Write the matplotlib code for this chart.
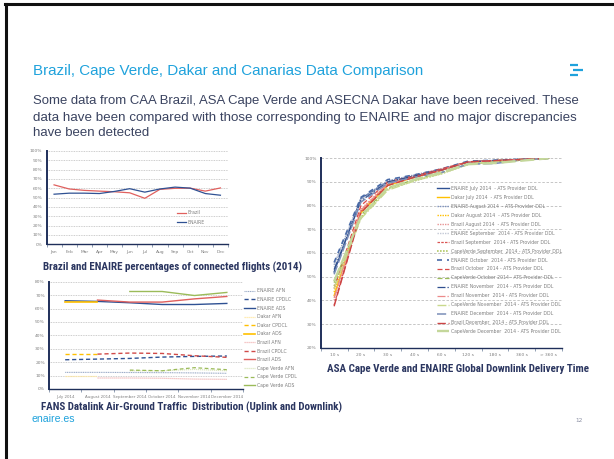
import numpy as np
import matplotlib
matplotlib.use("Agg")
import matplotlib.pyplot as plt
from matplotlib import font_manager as fm
from matplotlib.lines import Line2D

W, H, DPI = 614, 459, 100

def pick(fams):
    for f in fams:
        try:
            fm.findfont(fm.FontProperties(family=f), fallback_to_default=False)
            return f
        except Exception:
            pass
    return 'DejaVu Sans'

NARROW = pick(['Liberation Sans Narrow', 'Roboto Condensed', 'Open Sans'])
REGULAR = pick(['Liberation Sans', 'Roboto', 'DejaVu Sans'])
TICKFONT = 'DejaVu Sans'

# ---------------- data ----------------
title_text = "Brazil, Cape Verde, Dakar and Canarias Data Comparison"
body_lines = [
    "Some data from CAA Brazil, ASA Cape Verde and ASECNA Dakar have been received. These",
    "data have been compared with those corresponding to ENAIRE and no major discrepancies",
    "have been detected",
]

months = ['Jan', 'Feb', 'Mar', 'Apr', 'May', 'Jun', 'Jul', 'Aug', 'Sep', 'Oct', 'Nov', 'Dec']
brazil_connected = [63.7, 59.3, 57.8, 57.0, 56.3, 55.2, 49.3, 58.9, 60.0, 60.2, 57.0, 60.4]
enaire_connected = [53.7, 54.8, 54.8, 54.4, 56.7, 59.6, 55.9, 59.3, 61.3, 60.2, 54.4, 52.6]
pct_ticks_0_100 = ['0%', '10%', '20%', '30%', '40%', '50%', '60%', '70%', '80%', '90%', '100%']

traffic_months = ['July 2014', 'August 2014', 'September 2014', 'October 2014',
                  'November 2014', 'December 2014']
nan = np.nan
enaire_afn = [12.4, 12.4, 12.3, 12.2, 12.0, 11.7]
enaire_cpdlc = [21.8, 22.3, 22.8, 23.8, 24.3, 24.6]
enaire_ads = [65.8, 65.3, 64.3, 63.0, 63.0, 63.8]
dakar_afn = [9.7, 9.7, nan, nan, nan, nan]
dakar_cpdcl = [26.0, 26.0, nan, nan, nan, nan]
dakar_ads = [64.8, 64.8, nan, nan, nan, nan]
brazil_afn = [nan, 8.2, 8.2, 8.0, 7.4, 7.2]
brazil_cpdlc = [nan, 26.0, 26.8, 26.5, 24.8, 23.6]
brazil_ads = [nan, 66.3, 64.8, 64.8, 67.2, 69.0]
cv_afn = [nan, nan, 13.6, 13.6, 14.6, 13.6]
cv_cpdl = [nan, nan, 14.1, 13.6, 15.9, 14.4]
cv_ads = [nan, nan, 72.7, 72.7, 69.7, 72.0]
traffic_labels = ['ENAIRE AFN', 'ENAIRE CPDLC', 'ENAIRE ADS', 'Dakar AFN', 'Dakar CPDCL',
                  'Dakar ADS', 'Brazil AFN', 'Brazil CPDLC', 'Brazil ADS', 'Cape Verde AFN',
                  'Cape Verde CPDL', 'Cape Verde ADS']
pct_ticks_0_80 = ['0%', '10%', '20%', '30%', '40%', '50%', '60%', '70%', '80%']

delay_bins = ['10 s', '20 s', '30 s', '40 s', '60 s', '120 s', '180 s', '360 s', '> 360 s']
enaire_jul = [52.0, 83.0, 90.0, 92.5, 95.0, 98.5, 99.0, 99.5, 100]
dakar_jul = [42.0, 77.0, 88.5, 92.0, 95.0, 98.5, 99.0, 99.5, 100]
enaire_aug = [55.0, 83.0, 90.5, 93.0, 95.5, 98.5, 99.2, 99.6, 100]
dakar_aug = [43.5, 78.0, 89.0, 92.0, 95.0, 98.5, 99.0, 99.5, 100]
brazil_aug = [40.0, 78.5, 89.5, 92.5, 95.5, 98.5, 99.0, 99.5, 100]
enaire_sep = [54.0, 82.5, 90.0, 92.5, 95.0, 98.5, 99.0, 99.5, 100]
brazil_sep = [38.0, 77.5, 89.0, 92.0, 95.0, 98.5, 99.0, 99.5, 100]
cv_sep = [46.0, 75.0, 87.0, 90.5, 93.5, 97.5, 98.5, 99.2, 100]
enaire_oct = [56.0, 83.5, 91.0, 93.0, 95.5, 98.8, 99.2, 99.6, 100]
brazil_oct = [45.0, 80.0, 90.0, 92.5, 95.5, 98.5, 99.0, 99.5, 100]
cv_oct = [47.5, 76.0, 87.5, 91.0, 94.0, 97.5, 98.5, 99.2, 100]
enaire_nov = [53.0, 82.0, 90.0, 92.5, 95.0, 98.5, 99.0, 99.5, 100]
brazil_nov = [41.0, 78.0, 89.0, 92.0, 95.0, 98.5, 99.0, 99.5, 100]
cv_nov = [45.0, 74.5, 86.5, 90.5, 93.5, 97.5, 98.5, 99.2, 100]
enaire_dec = [51.0, 81.5, 89.5, 92.0, 94.0, 97.5, 97.8, 99.3, 100]
brazil_dec = [37.5, 77.0, 88.5, 92.0, 95.0, 98.5, 99.0, 99.5, 100]
cv_dec = [48.0, 75.5, 87.5, 91.0, 94.0, 97.5, 98.0, 99.0, 100]
delay_labels = [
    'ENAIRE July 2014  - ATS Provider DDL', 'Dakar July 2014  - ATS Provider DDL',
    'ENAIRE August 2014  - ATS Provider DDL', 'Dakar August 2014  - ATS Provider DDL',
    'Brazil August 2014  - ATS Provider DDL', 'ENAIRE September  2014 - ATS Provider DDL',
    'Brazil September  2014 - ATS Provider DDL', 'CapeVerde September  2014 - ATS Provider DDL',
    'ENAIRE October  2014 - ATS Provider DDL', 'Brazil October  2014 - ATS Provider DDL',
    'CapeVerde October 2014 - ATS Provider DDL', 'ENAIRE November  2014 - ATS Provider DDL',
    'Brazil November  2014 - ATS Provider DDL', 'CapeVerde November  2014 - ATS Provider DDL',
    'ENAIRE December  2014 - ATS Provider DDL', 'Brazil December  2014 - ATS Provider DDL',
    'CapeVerde December  2014 - ATS Provider DDL']
pct_ticks_20_100 = ['20%', '30%', '40%', '50%', '60%', '70%', '80%', '90%', '100%']

caption1 = "Brazil and ENAIRE percentages of connected flights (2014)"
caption2 = "FANS Datalink Air-Ground Traffic  Distribution (Uplink and Downlink)"
caption3 = "ASA Cape Verde and ENAIRE Global Downlink Delivery Time"

# ---------------- colours ----------------
BLUE_T = '#1FA2DC'
BODY = '#3A4360'
CAP = '#2B3660'
NAVY = '#2F5193'
AXIS = '#1F2F5A'
RED = '#E0605E'
YEL = '#FFC000'
GRN = '#9BBB59'
TICKC = '#7F7F7F'
GRID = '#BDBDBD'

fig = plt.figure(figsize=(W / DPI, H / DPI), dpi=DPI)
fig.patch.set_facecolor('white')
renderer = fig.canvas.get_renderer()

def fy(y):
    return 1 - y / H

def add_ax(x0, y0, x1, y1):
    return fig.add_axes([x0 / W, 1 - y1 / H, (x1 - x0) / W, (y1 - y0) / H])

# ---------------- slide decorations ----------------
fig.add_artist(Line2D([5 / W, 1], [fy(4), fy(4)], color='#111111', lw=2.2, transform=fig.transFigure))
fig.add_artist(Line2D([6 / W, 6 / W], [fy(4), 0], color='#111111', lw=2.2, transform=fig.transFigure))
for (xa, xb, yy) in [(569.5, 577.5, 65), (572.5, 582.5, 70), (569.5, 577.5, 75)]:
    fig.add_artist(Line2D([xa / W, xb / W], [fy(yy), fy(yy)], color=BLUE_T, lw=1.6,
                          solid_capstyle='butt', transform=fig.transFigure))

# text fitted to a given width (one text object per line)
def fitted_line(s, x0, x1, y_base, fit, base_size, **kw):
    t = fig.text(x0 / W, fy(y_base), s, va='baseline', ha='left', fontsize=base_size, **kw)
    if fit:
        for _ in range(3):
            w = t.get_window_extent(renderer).width
            t.set_fontsize(t.get_fontsize() * (x1 - x0) / w)
    return t.get_fontsize()

fitted_line(title_text, 33, 422, 75.5, True, 11, color=BLUE_T, family=REGULAR)

body_base = [104, 120.5, 136.5]
sizes = []
for i, line in enumerate(body_lines[:-1]):
    sizes.append(fitted_line(line, 33, 581, body_base[i], True, 10.5, color=BODY, family=REGULAR))
fitted_line(body_lines[-1], 33, 581, body_base[-1], False, float(np.mean(sizes)),
            color=BODY, family=REGULAR)

fig.text(43 / W, fy(267), caption1, color=CAP, fontsize=7.9, family=NARROW, fontweight='bold', va='center')
fig.text(41 / W, fy(407.5), caption2, color=CAP, fontsize=7.9, family=NARROW, fontweight='bold', va='center')
fig.text(327 / W, fy(369), caption3, color=CAP, fontsize=7.9, family=NARROW, fontweight='bold', va='center')
fig.text(32 / W, fy(419.5), 'enaire.es', color=BLUE_T, fontsize=7.6, family=REGULAR, va='center')
fig.text(579 / W, fy(420), '12', color='#8A8FA3', fontsize=4.2, family=TICKFONT, va='center', ha='center')

def style_axes(ax, ylabels, ymin, ystep, grid_ls, xlabels, xfs=3.2):
    n = len(xlabels)
    ax.set_xlim(-0.5, n - 0.5)
    yt = [ymin + ystep * i for i in range(len(ylabels))]
    ax.set_ylim(yt[0], yt[-1])
    ax.set_yticks(yt)
    ax.set_yticklabels(ylabels, fontsize=3.2, color=TICKC, family=TICKFONT)
    ax.set_xticks(range(n))
    ax.set_xticklabels(xlabels, fontsize=xfs, color=TICKC, family=TICKFONT)
    ax.set_xticks(np.arange(-0.5, n, 1.0), minor=True)
    ax.tick_params(axis='y', length=0, pad=3)
    ax.tick_params(axis='x', which='major', length=0, pad=4)
    ax.tick_params(axis='x', which='minor', length=2.5, width=0.6, color='#8090A8', direction='out')
    for s in ['top', 'right']:
        ax.spines[s].set_visible(False)
    ax.spines['left'].set_color(AXIS)
    ax.spines['left'].set_linewidth(1.4)
    ax.spines['bottom'].set_color(AXIS)
    ax.spines['bottom'].set_linewidth(1.0)
    for v in yt[1:]:
        ax.axhline(v, color=GRID, lw=0.6, ls=grid_ls, zorder=0)
    ax.set_facecolor('none')

# ---------------- chart 1: connected flights ----------------
ax1 = add_ax(46.5, 151, 228, 244.3)
style_axes(ax1, pct_ticks_0_100, 0, 10, (0, (1, 1)), months)
x1 = np.arange(len(months))
ax1.plot(x1, brazil_connected, color=RED, lw=0.9, label='Brazil')
ax1.plot(x1, enaire_connected, color=NAVY, lw=0.9, label='ENAIRE')
leg1 = ax1.legend(loc='upper left', bbox_to_anchor=(176.5 / W, fy(210.5)), bbox_transform=fig.transFigure,
                  frameon=False, fontsize=3.3, handlelength=2.0, handletextpad=0.3,
                  labelspacing=1.0, borderpad=0, borderaxespad=0)
for t in leg1.get_texts():
    t.set_color(TICKC)

# ---------------- chart 2: traffic distribution ----------------
ax2 = add_ax(49, 281.7, 243, 389)
style_axes(ax2, pct_ticks_0_80, 0, 10, (0, (1, 1)), traffic_months, xfs=2.9)
x2 = np.arange(len(traffic_months))
traffic_series = [enaire_afn, enaire_cpdlc, enaire_ads, dakar_afn, dakar_cpdcl, dakar_ads,
                  brazil_afn, brazil_cpdlc, brazil_ads, cv_afn, cv_cpdl, cv_ads]
traffic_styles = [
    ('#9AAAC6', (0, (1, 0.6)), 0.8),
    (NAVY, (0, (3, 2)), 1.0),
    (NAVY, '-', 1.0),
    ('#FFE8A0', (0, (1, 0.6)), 0.9),
    (YEL, (0, (3, 2)), 1.0),
    (YEL, '-', 1.2),
    ('#F2B8B8', (0, (1, 0.6)), 0.9),
    ('#D04A48', (0, (3, 2)), 1.0),
    (RED, '-', 1.0),
    ('#DCE6C0', (0, (1, 0.6)), 0.9),
    (GRN, (0, (3, 2)), 0.9),
    (GRN, '-', 1.0),
]
for vals, lab, (c, ls, lw) in zip(traffic_series, traffic_labels, traffic_styles):
    ax2.plot(x2, vals, color=c, ls=ls, lw=lw, label=lab)
leg2 = ax2.legend(loc='upper left', bbox_to_anchor=(244 / W, fy(288.5)), bbox_transform=fig.transFigure,
                  frameon=False, fontsize=3.3, handlelength=2.4, handletextpad=0.5,
                  labelspacing=0.78, borderpad=0, borderaxespad=0)
for t in leg2.get_texts():
    t.set_color(TICKC)

# ---------------- chart 3: delivery time ----------------
ax3 = add_ax(320.7, 158.3, 562, 347.7)
style_axes(ax3, pct_ticks_20_100, 20, 10, (0, (3, 2)), delay_bins)
x3 = np.arange(len(delay_bins))
delay_series = [enaire_jul, dakar_jul, enaire_aug, dakar_aug, brazil_aug, enaire_sep, brazil_sep,
                cv_sep, enaire_oct, brazil_oct, cv_oct, enaire_nov, brazil_nov, cv_nov,
                enaire_dec, brazil_dec, cv_dec]
delay_styles = [
    (NAVY, '-', 1.0),
    (YEL, '-', 1.0),
    ('#7F93BE', (0, (1, 0.8)), 1.0),
    (YEL, (0, (1, 0.8)), 1.0),
    ('#E89494', (0, (1, 0.8)), 1.0),
    ('#C3C9D6', (0, (1, 0.8)), 1.0),
    ('#DA5452', (0, (2, 1)), 0.9),
    ('#B2C867', (0, (1, 0.8)), 1.2),
    ('#4A6BA8', (0, (3, 3)), 1.2),
    ('#DA4A48', (0, (4, 2)), 0.9),
    (GRN, (0, (4, 2)), 0.9),
    ('#2F4F8F', '-.', 0.9),
    ('#EC8A8A', '-.', 0.9),
    ('#C9D98C', '-.', 1.0),
    ('#7A8EB8', (0, (6, 2)), 1.1),
    ('#CC4444', (0, (6, 2)), 1.0),
    ('#C4D79B', (0, (6, 2)), 1.7),
]
for vals, lab, (c, ls, lw) in zip(delay_series, delay_labels, delay_styles):
    ax3.plot(x3, vals, color=c, ls=ls, lw=lw, label=lab)
leg3 = ax3.legend(loc='upper left', bbox_to_anchor=(436.5 / W, fy(186)), bbox_transform=fig.transFigure,
                  frameon=False, fontsize=3.3, handlelength=2.7, handletextpad=0.5,
                  labelspacing=0.86, borderpad=0, borderaxespad=0)
for t in leg3.get_texts():
    t.set_color(TICKC)

fig.savefig('out.png', dpi=DPI, facecolor='white')
